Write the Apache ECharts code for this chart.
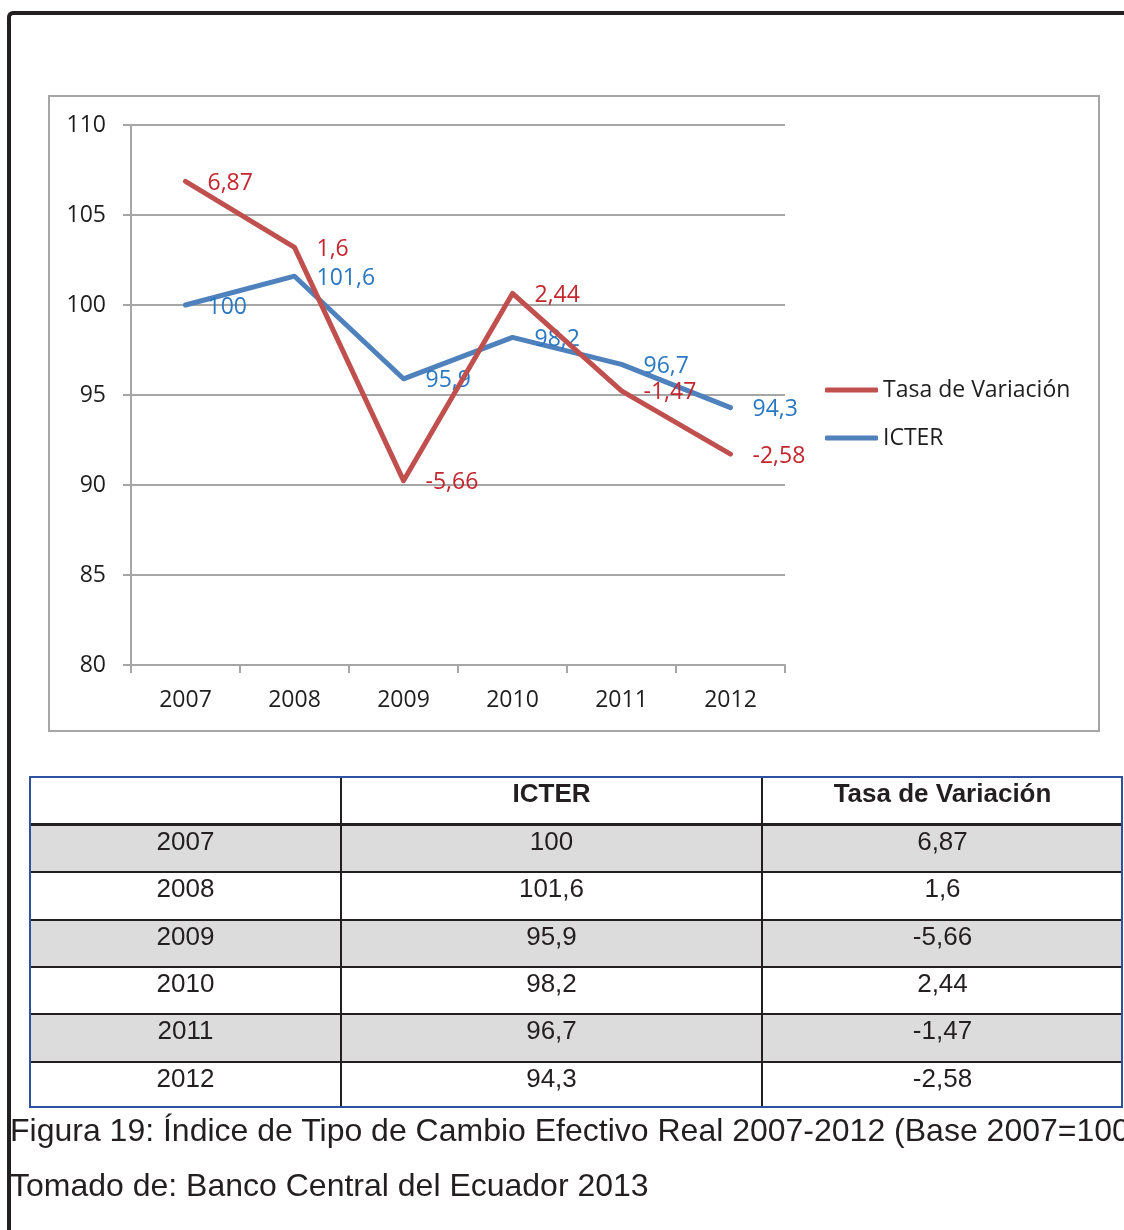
<!DOCTYPE html>
<html>
<head>
<meta charset="utf-8">
<script src="https://cdn.jsdelivr.net/npm/echarts@6/dist/echarts.min.js"></script>
<style>
  html, body { margin:0; padding:0; background:#fff; }
  body { width:1124px; height:1230px; position:relative; overflow:hidden; }
  #frame { position:absolute; left:7px; top:11px; width:1300px; height:1400px;
           border-top:4px solid #231f20; border-left:4px solid #231f20; border-top-left-radius:6px; }
  #chart { position:absolute; left:0; top:0; width:1124px; height:745px; }
  #tbl { position:absolute; left:0; top:0; width:1124px; height:1230px; pointer-events:none; }
  .cell { position:absolute; text-align:center; font-family:"Liberation Sans", Arial, sans-serif;
          font-size:26px; line-height:26px; color:#231f20; white-space:nowrap; }
  .hdr { font-weight:bold; }
  .ln { position:absolute; }
  .cap { position:absolute; left:10px; font-family:"Liberation Sans", Arial, sans-serif; font-size:32px;
         line-height:32px; color:#231f20; white-space:nowrap; }
</style>
</head>
<body>
<div id="frame"></div>
<div id="chart"></div>
<div id="tbl"></div>
<div class="cap" style="top:1114px">Figura 19: Índice de Tipo de Cambio Efectivo Real 2007-2012 (Base 2007=100)</div>
<div class="cap" style="top:1169px">Tomado de: Banco Central del Ecuador 2013</div>
<script>
// ---- data ----
const years = ['2007', '2008', '2009', '2010', '2011', '2012'];
const icter = [100, 101.6, 95.9, 98.2, 96.7, 94.3];
const tasa = [6.87, 1.6, -5.66, 2.44, -1.47, -2.58];
// vertical position of the red line
const tasaPlot = [106.87, 103.2, 90.24, 100.64, 95.23, 91.72];
const yMin = 80, yMax = 110, yStep = 5;
const seriesNames = ['Tasa de Variación', 'ICTER'];
const tableHeaders = ['', 'ICTER', 'Tasa de Variación'];

function fmt(v) { return String(v).replace('.', ','); }

// ---- chart ----
const chart = echarts.init(document.getElementById('chart'), null, { renderer: 'canvas' });
const FONT = 'Open Sans';
const FS = 23;
const AX = '#a6a6a6';
chart.setOption({
  animation: false,
  graphic: [{
    type: 'rect', silent: true,
    shape: { x: 49, y: 96, width: 1050, height: 635 },
    style: { fill: 'none', stroke: '#a6a6a6', lineWidth: 2 }
  }],
  grid: { left: 131, top: 125, width: 654, height: 540 },
  legend: {
    orient: 'vertical', left: 820, top: 373,
    itemWidth: 53, itemHeight: 5, itemGap: 24, icon: 'roundRect',
    data: seriesNames,
    textStyle: { fontFamily: FONT, fontSize: FS, color: '#1e1e1e', lineHeight: 24 }
  },
  xAxis: {
    type: 'category', data: years, boundaryGap: true,
    axisLine: { lineStyle: { color: AX, width: 2 } },
    axisTick: { show: true, length: 8, lineStyle: { color: AX, width: 2 } },
    axisLabel: { margin: 24, fontFamily: FONT, fontSize: FS, color: '#1e1e1e' }
  },
  yAxis: {
    type: 'value', min: yMin, max: yMax, interval: yStep,
    axisLine: { show: true, lineStyle: { color: AX, width: 2 } },
    axisTick: { show: true, length: 8, lineStyle: { color: AX, width: 2 } },
    splitLine: { lineStyle: { color: AX, width: 2 } },
    axisLabel: { margin: 25, fontFamily: FONT, fontSize: FS, color: '#1e1e1e' }
  },
  series: [
    {
      name: 'ICTER', type: 'line', data: icter,
      symbol: 'circle', symbolSize: 2, showSymbol: true,
      itemStyle: { color: '#4f81bd' },
      lineStyle: { color: '#4f81bd', width: 5, cap: 'round', join: 'round' },
      label: { show: true, position: 'right', distance: 21, offset: [0, 2], fontFamily: FONT, fontSize: FS, color: '#2a78c2',
               formatter: p => fmt(icter[p.dataIndex]) },
      z: 2
    },
    {
      name: 'Tasa de Variación', type: 'line', data: tasaPlot,
      symbol: 'circle', symbolSize: 2, showSymbol: true,
      itemStyle: { color: '#c0504d' },
      lineStyle: { color: '#c0504d', width: 5, cap: 'round', join: 'round' },
      label: { show: true, position: 'right', distance: 21, offset: [0, 2], fontFamily: FONT, fontSize: FS, color: '#c3262e',
               formatter: p => fmt(tasa[p.dataIndex]) },
      z: 3
    }
  ]
});

// ---- table ----
const tbl = document.getElementById('tbl');
const colX = [30, 341, 762, 1123];          // column boundaries
const rowTops = [778, 826, 873, 921, 968, 1015, 1063]; // interior tops of header + rows
const rowBottoms = [823, 871, 919, 966, 1013, 1061, 1106];
const BLUE = '#2f51a2', BLK = '#231f20';
function box(l, t, w, h, bg) {
  const d = document.createElement('div');
  d.className = 'ln';
  d.style.left = l + 'px'; d.style.top = t + 'px'; d.style.width = w + 'px'; d.style.height = h + 'px';
  d.style.background = bg; tbl.appendChild(d); return d;
}
// row fills
for (let r = 0; r < years.length; r++) {
  if (r % 2 === 0) box(31, rowTops[r + 1], 1091, rowBottoms[r + 1] - rowTops[r + 1], '#dcdcdc');
}
// horizontal lines
box(31, 823, 1091, 3, BLK);
for (let r = 1; r < years.length; r++) box(31, rowBottoms[r], 1091, 2, BLK);
// vertical lines
box(340, 777, 2, 330, BLK);
box(761, 777, 2, 330, BLK);
// outer blue border
box(30, 776, 1093, 2, BLUE);
box(30, 1106, 1093, 2, BLUE);
box(29, 776, 2, 332, BLUE);
box(1121, 776, 2, 332, BLUE);
function cell(text, c, r, bold) {
  const d = document.createElement('div');
  d.className = 'cell' + (bold ? ' hdr' : '');
  d.style.left = colX[c] + 'px';
  d.style.width = (colX[c + 1] - colX[c]) + 'px';
  d.style.top = (rowTops[r] + 2) + 'px';
  d.textContent = text;
  tbl.appendChild(d);
}
tableHeaders.forEach((h, c) => cell(h, c, 0, true));
years.forEach((y, i) => {
  cell(y, 0, i + 1);
  cell(fmt(icter[i]), 1, i + 1);
  cell(fmt(tasa[i]), 2, i + 1);
});
</script>
</body>
</html>
